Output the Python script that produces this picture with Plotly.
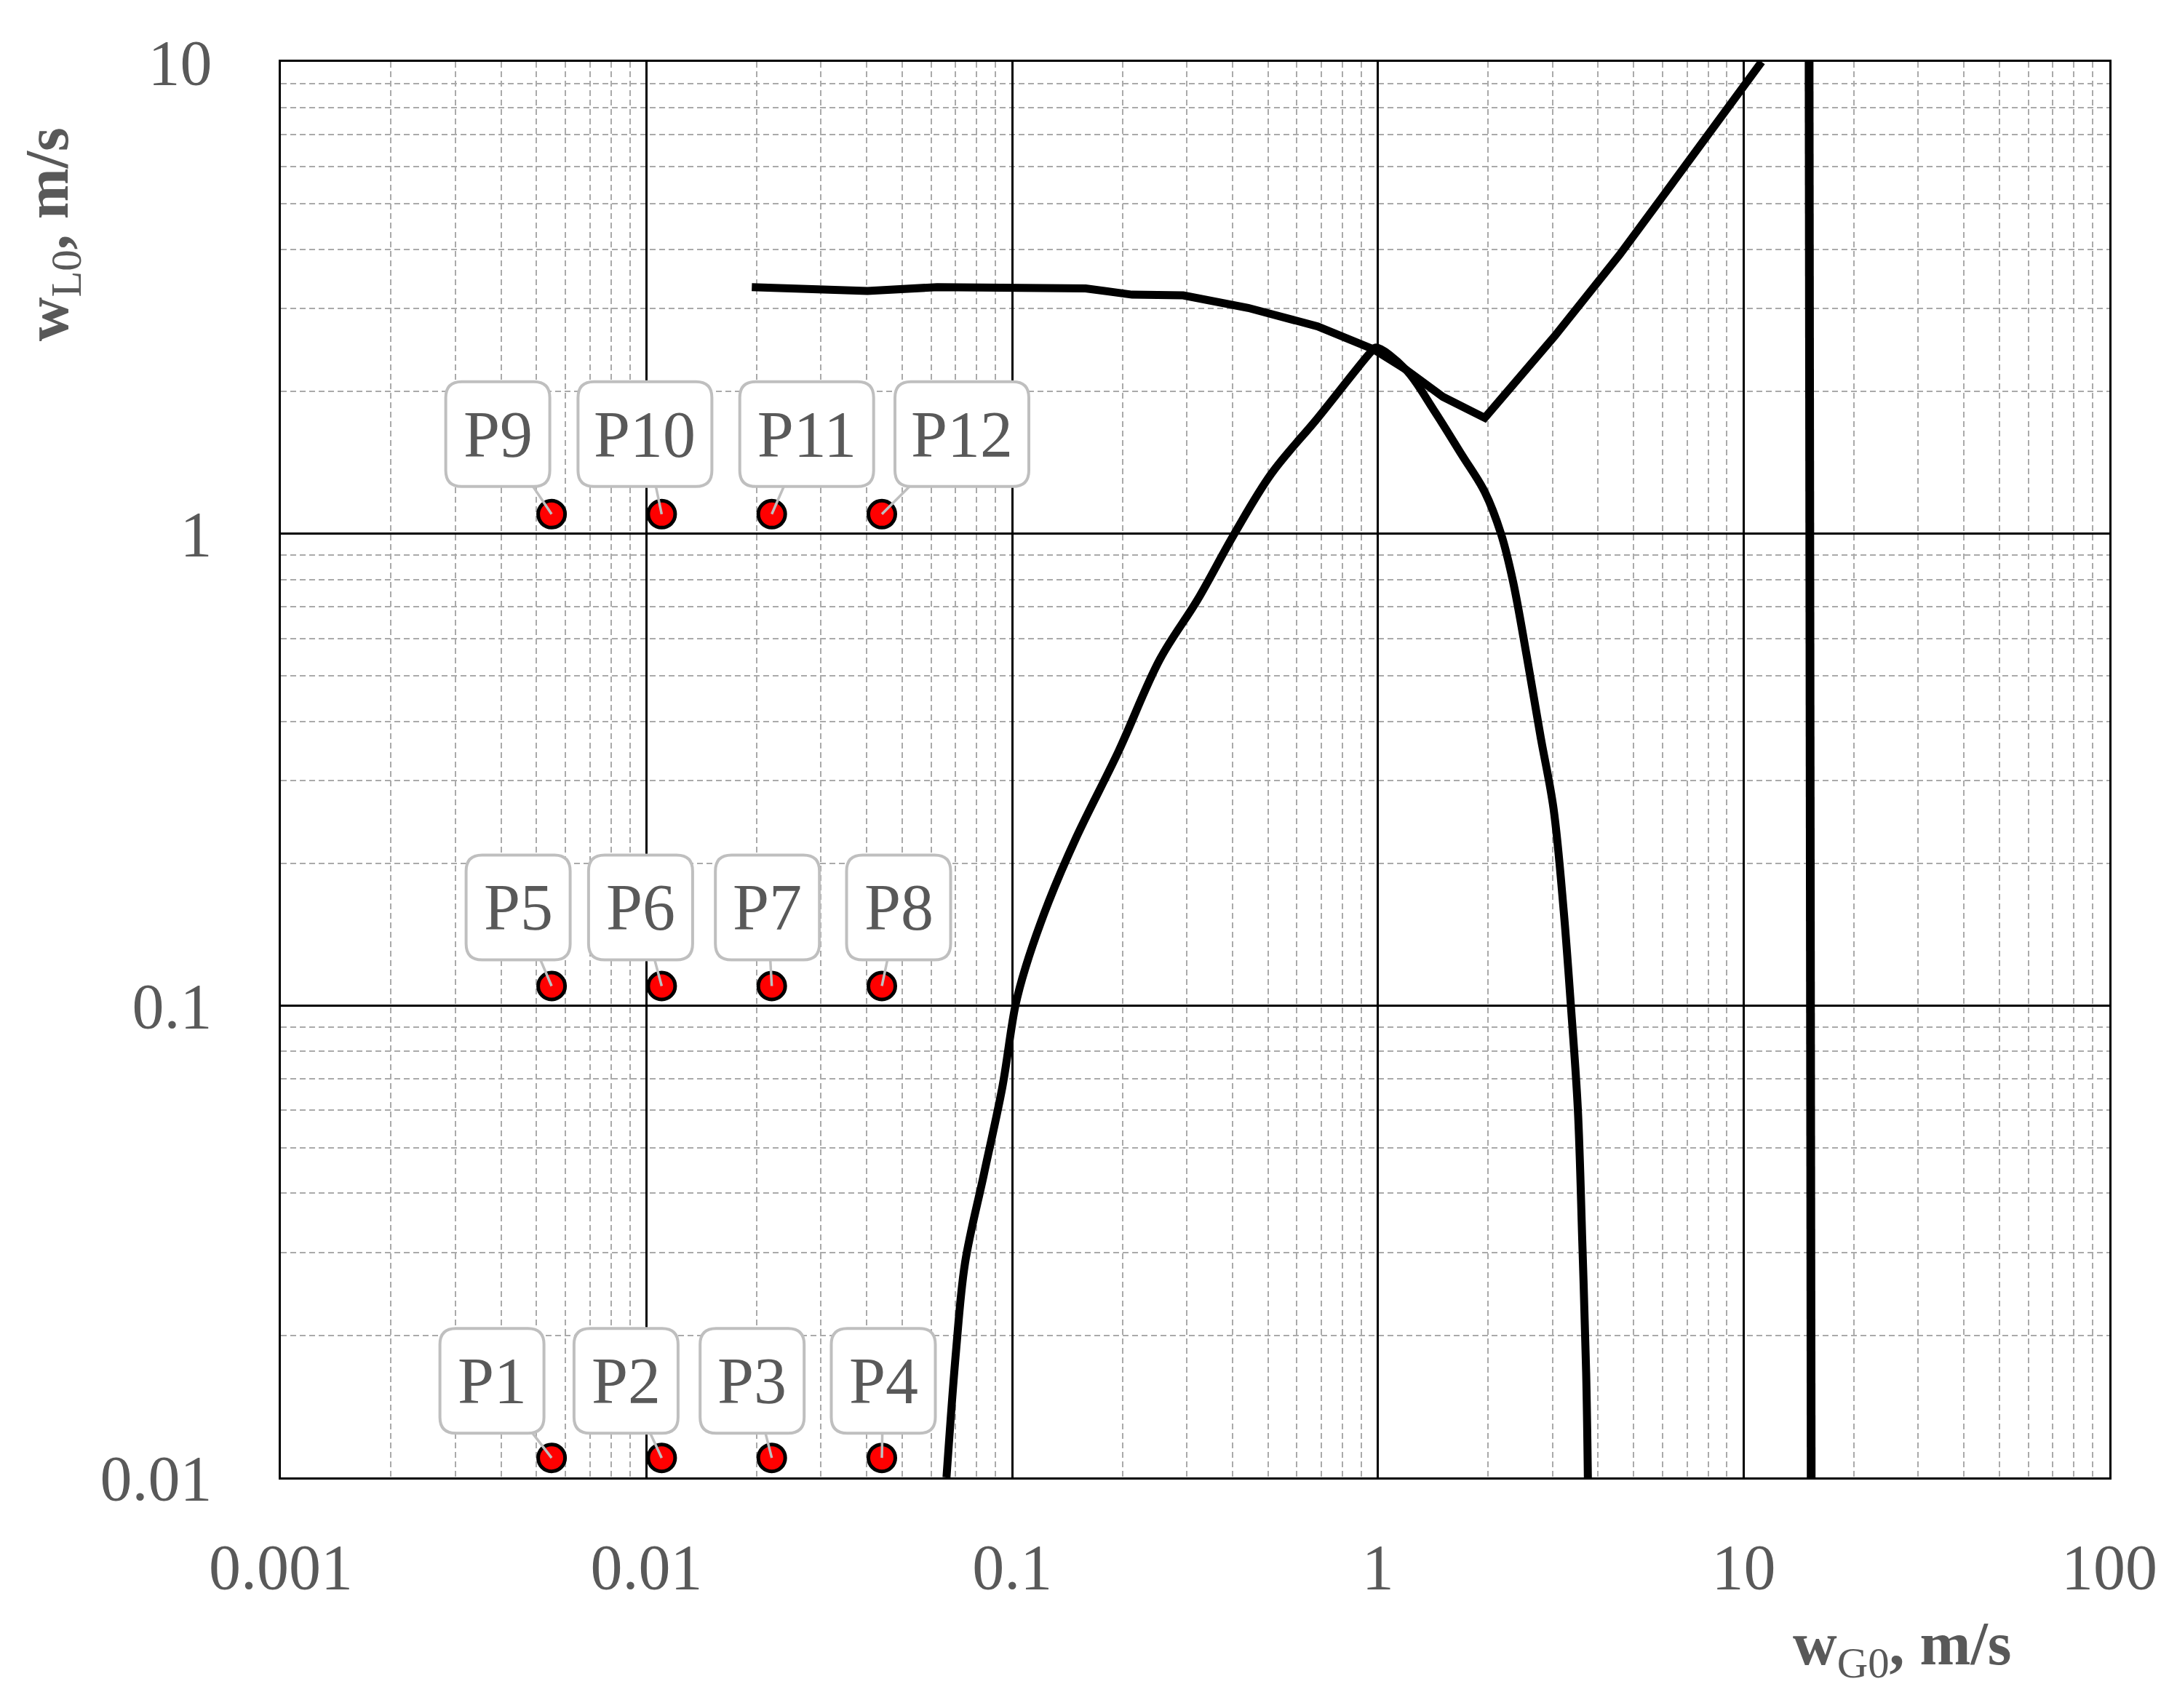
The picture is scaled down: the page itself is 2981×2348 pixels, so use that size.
import numpy as np
import plotly.graph_objects as go

# --- dane ---
# górna krzywa (poziomy odcinek + "V")
upper_x = [0.0194, 0.0275, 0.0402, 0.0623, 0.1024, 0.1587, 0.2127, 0.2934,
           0.4416, 0.684, 0.972, 1.19, 1.505, 1.96, 3.04, 4.58, 6.43, 11.2]
upper_y = [3.33, 3.31, 3.27, 3.33, 3.31, 3.31, 3.21, 3.20,
           3.01, 2.75, 2.46, 2.23, 1.95, 1.76, 2.62, 3.90, 5.57, 10.0]

# krzywa rosnąca od dołu, potem opadająca
loop_x = [0.0661, 0.0702, 0.0743, 0.0836, 0.094, 0.102, 0.1087, 0.1258, 0.150,
          0.195, 0.2535, 0.321, 0.405, 0.511, 0.685, 0.958, 0.987,
          1.19, 1.42, 1.695, 1.96, 2.17, 2.34, 2.55, 2.785, 3.02, 3.22, 3.37,
          3.52, 3.62, 3.71, 3.75]
loop_y = [0.01, 0.01855, 0.0285, 0.0438, 0.0673, 0.1, 0.1204, 0.166, 0.228,
          0.345, 0.542, 0.724, 1.0, 1.34, 1.76, 2.43, 2.48,
          2.23, 1.83, 1.47, 1.225, 1.0, 0.793, 0.552, 0.371, 0.262, 0.159, 0.0998,
          0.0605, 0.0317, 0.01665, 0.01]

# pionowa granica
limit_x = [15.1, 15.3]
limit_y = [10.0, 0.01]

# punkty pomiarowe
point_labels = ["P1", "P2", "P3", "P4", "P5", "P6", "P7", "P8",
                "P9", "P10", "P11", "P12"]
point_x = [0.0055, 0.011, 0.022, 0.044] * 3
point_y = [0.011] * 4 + [0.11] * 4 + [1.1] * 4

x_tickvals = [0.001, 0.01, 0.1, 1, 10, 100]
x_ticktext = ["0.001", "0.01", "0.1", "1", "10", "100"]
y_tickvals = [0.01, 0.1, 1, 10]
y_ticktext = ["0.01", "0.1", "1", "10"]

# --- wygląd ---
FONT = "Liberation Serif"
GREY_TEXT = "#595959"
BOX_LINE = "#bfbfbf"

# przesunięcie środka etykiety względem punktu (px, y w dół)
label_offsets = [(-82, -106), (-49, -106), (-27, -106), (2, -106),
                 (-46, -108), (-29, -108), (-6, -108), (23, -108),
                 (-74, -110), (-23, -110), (48, -110), (110, -110)]
BOX_H = 144


def rounded_box(cx, cy, w, h, r=22):
    x0, x1 = cx - w / 2, cx + w / 2
    y0, y1 = cy - h / 2, cy + h / 2
    return (f"M {x0 + r},{y0} L {x1 - r},{y0} Q {x1},{y0} {x1},{y0 + r} "
            f"L {x1},{y1 - r} Q {x1},{y1} {x1 - r},{y1} L {x0 + r},{y1} "
            f"Q {x0},{y1} {x0},{y1 - r} L {x0},{y0 + r} Q {x0},{y0} {x0 + r},{y0} Z")


fig = go.Figure()

fig.add_trace(go.Scatter(x=upper_x, y=upper_y, mode="lines",
                         line=dict(color="black", width=11), showlegend=False))
fig.add_trace(go.Scatter(x=loop_x, y=loop_y, mode="lines",
                         line=dict(color="black", width=11, shape="spline",
                                   smoothing=1.0),
                         showlegend=False))
fig.add_trace(go.Scatter(x=limit_x, y=limit_y, mode="lines",
                         line=dict(color="black", width=12), showlegend=False))
fig.add_trace(go.Scatter(
    x=point_x, y=point_y, mode="markers",
    marker=dict(size=37, color="#ff0000", line=dict(color="black", width=5)),
    showlegend=False,
))

# etykiety punktów
for label, px, py, (dx, dy) in zip(point_labels, point_x, point_y, label_offsets):
    w = 184 if len(label) > 2 else 143
    fig.add_shape(
        type="path", xref="x", yref="y", xsizemode="pixel", ysizemode="pixel",
        xanchor=px, yanchor=py, path=rounded_box(dx, -dy, w, BOX_H),
        line=dict(color=BOX_LINE, width=4), fillcolor="white", layer="above",
    )
    fig.add_annotation(
        x=np.log10(px), y=np.log10(py), xref="x", yref="y",
        text=label, showarrow=True, ax=dx, ay=dy, arrowhead=0,
        arrowcolor=BOX_LINE, arrowwidth=3.5, standoff=0, startstandoff=0,
        width=w, height=BOX_H, borderpad=0, borderwidth=0,
        font=dict(family=FONT, size=90, color=GREY_TEXT),
        align="center", valign="middle",
    )

# tytuły osi
fig.add_annotation(
    text="<b>w</b><sub>L0</sub><b>, m/s</b>", xref="paper", yref="paper",
    x=-0.125, y=0.878, xanchor="center", yanchor="middle",
    textangle=-90, showarrow=False,
    font=dict(family=FONT, size=84, color=GREY_TEXT),
)
fig.add_annotation(
    text="<b>w</b><sub>G0</sub><b>, m/s</b>", xref="paper", yref="paper",
    x=0.8866, y=-0.1208, xanchor="center", yanchor="middle", showarrow=False,
    font=dict(family=FONT, size=84, color=GREY_TEXT),
)

axis_common = dict(
    type="log", dtick=1, showline=True, linecolor="black", linewidth=3,
    mirror=True, showgrid=True, gridcolor="black", gridwidth=2.5,
    zeroline=False, ticks="", automargin=False,
    tickfont=dict(family=FONT, size=88, color=GREY_TEXT),
    minor=dict(dtick="D1", showgrid=True, gridcolor="#aaaaaa", gridwidth=2,
               griddash="8px,5px", ticks=""),
)

fig.update_xaxes(range=[-3, 2], tickvals=x_tickvals, ticktext=x_ticktext,
                 ticklabelstandoff=44, **axis_common)
fig.update_yaxes(range=[-2, 1], tickvals=y_tickvals, ticktext=y_ticktext,
                 ticklabelstandoff=74, **axis_common)

# strona HTML ma 8 px marginesu body - kompensacja
fig.update_layout(
    width=2981, height=2348,
    margin=dict(l=378, r=90, t=77, b=325),
    paper_bgcolor="white", plot_bgcolor="white",
    showlegend=False,
)

fig.write_html("out.html")
